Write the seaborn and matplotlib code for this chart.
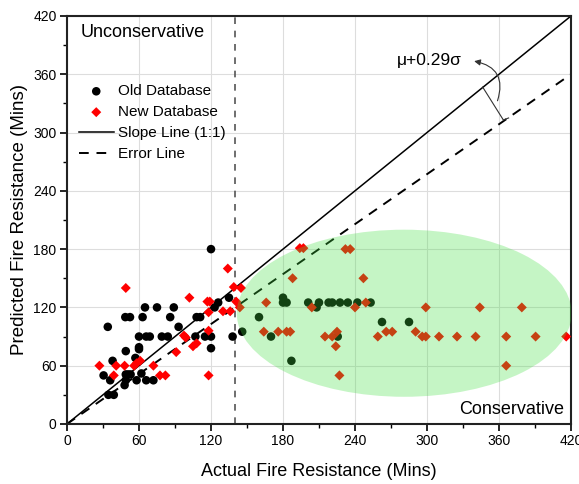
import numpy as np
import pandas as pd
import matplotlib
matplotlib.use("Agg")
import matplotlib.pyplot as plt
from matplotlib.patches import Ellipse
import seaborn as sns

# data (minutes)
old_x = [120, 34, 48.6, 52.5, 65, 75, 89, 63, 86, 108, 111, 126, 123, 135, 93,
         60, 66, 69, 79, 84, 107, 115, 120, 138, 49, 60, 60, 57, 120, 38, 30.5,
         36, 49, 51, 53, 62, 49, 58, 66, 72, 48, 34.5, 39,
         180, 180, 183, 201, 208, 210, 218, 221, 227.5, 234, 242, 253, 160, 146,
         170, 187, 225.6, 262.5, 285]
old_y = [180, 100, 110, 110, 120, 120, 120, 110, 110, 110, 110, 125, 120, 130, 100,
         90, 90, 90, 90, 90, 90, 90, 90, 90, 75, 79, 77, 68, 78, 65, 50,
         45, 51, 51, 51, 52, 45, 45, 45, 45, 40, 30, 30,
         130, 125, 125, 125, 120, 125, 125, 125, 125, 125, 125, 125, 110, 95,
         90, 65, 90, 105, 105]

new_x = [49, 134, 102, 139, 145, 117, 119, 118, 130, 136, 144, 97.5, 99, 105, 108,
         91, 118, 27, 41, 48, 39, 56, 58, 61, 72, 77.5, 82, 118,
         194, 197, 232, 236, 188, 247, 166, 204, 240, 249, 164, 176, 183, 186,
         215, 221, 225, 224, 227, 141, 299, 344, 379, 259, 266, 271, 290.5, 296,
         299, 310, 325, 340.5, 366, 390.5, 416, 366]
new_y = [140, 160, 130, 141, 140, 126, 126, 115, 116, 116, 120, 91, 89, 80, 83,
         74, 96, 60, 60, 60, 50, 60, 62.5, 65, 60, 50, 50, 50,
         181, 181, 180, 180, 150, 150, 125, 120, 120, 125, 95, 95, 95, 95,
         90, 90, 95, 80, 50, 126, 120, 120, 120, 90, 95, 95, 95, 90,
         90, 90, 90, 90, 90, 90, 90, 60]

line_x = [0, 420]
slope_y = [0, 420]
error_y = [0, 360]
limit_x = 140

plt.rcParams.update({
    "font.family": ["Liberation Sans", "DejaVu Sans"],
    "font.size": 10, "axes.linewidth": 1.5,
    "xtick.direction": "out", "ytick.direction": "out",
})

old = pd.DataFrame({"x": old_x, "y": old_y})
new = pd.DataFrame({"x": new_x, "y": new_y})

fig = plt.figure(figsize=(5.79, 4.84), dpi=100)
ax = fig.add_axes([0.1157, 0.124, 0.8705, 0.843])

ax.grid(True, color="#dddddd", linewidth=0.8, zorder=0)
ax.set_axisbelow(True)

sns.scatterplot(data=old, x="x", y="y", ax=ax, color="black", marker="o", s=38,
                edgecolor="none", label="Old Database", zorder=3, clip_on=False)
sns.scatterplot(data=new, x="x", y="y", ax=ax, color="red", marker="D", s=26,
                edgecolor="none", label="New Database", zorder=3, clip_on=False)
sns.lineplot(x=line_x, y=slope_y, ax=ax, color="black", linewidth=1.1,
             label="Slope Line (1:1)", zorder=2)
sns.lineplot(x=line_x, y=error_y, ax=ax, color="black", linewidth=1.4,
             linestyle=(0, (5, 4)), label="Error Line", zorder=2)
ax.axvline(limit_x, color="#555555", linewidth=1.2, linestyle=(0, (4, 4)), zorder=2)

ell = Ellipse((281, 114), 279, 172, facecolor=(0.26, 0.87, 0.26), alpha=0.3,
              edgecolor="none", zorder=4)
ax.add_patch(ell)

# mu + 0.29 sigma marker
ax.plot([346.4, 363.6], [346.8, 313], color="#333333", linewidth=0.8, zorder=5)
ax.plot([363.6, 368], [313, 315], color="#333333", linewidth=0.8, zorder=5)
ax.annotate("", xy=(337, 374), xytext=(358, 330),
            arrowprops=dict(arrowstyle="-|>", connectionstyle="arc3,rad=0.6",
                            color="#333333", lw=0.8, mutation_scale=9))
ax.text(329, 374, "\u03bc+0.29\u03c3", ha="right", va="center", fontsize=12.5)

ax.text(11, 403, "Unconservative", ha="left", va="center", fontsize=13)
ax.text(414, 15, "Conservative", ha="right", va="center", fontsize=13)

ax.set_xlim(0, 420)
ax.set_ylim(0, 420)
ticks = np.arange(0, 421, 60)
ax.set_xticks(ticks)
ax.set_yticks(ticks)
ax.set_xticks(np.arange(30, 420, 60), minor=True)
ax.set_yticks(np.arange(30, 420, 60), minor=True)
ax.tick_params(which="major", length=5, width=1.2, labelsize=10, pad=2.5)
ax.tick_params(which="minor", length=3, width=1.0)
ax.set_xlabel("Actual Fire Resistance (Mins)", fontsize=13, labelpad=10.5)
ax.set_ylabel("Predicted Fire Resistance (Mins)", fontsize=13.5, labelpad=4)
for s in ax.spines.values():
    s.set_color("#222222")

ax.legend(loc="upper left", bbox_to_anchor=(0.005, 0.855), frameon=False,
          fontsize=11, handlelength=2.3, handletextpad=0.3, labelspacing=0.45,
          borderaxespad=0.2)

fig.savefig("out.png", dpi=100)
